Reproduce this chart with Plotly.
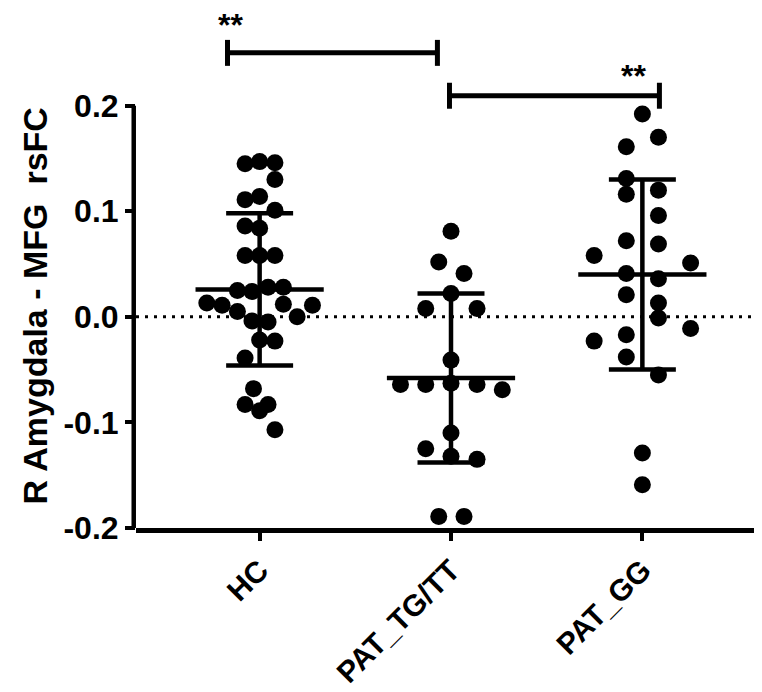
import plotly.graph_objects as go

# ---------------- data ----------------
groups = ["HC", "PAT_TG/TT", "PAT_GG"]

hc_vals = [0.145, 0.147, 0.146, 0.130, 0.114, 0.111, 0.101, 0.086, 0.084, 0.058,
           0.058, 0.058, 0.025, 0.024, 0.028, 0.028, 0.013, 0.011, 0.012, 0.011,
           0.005, 0.000, -0.004, -0.005, -0.022, -0.023, -0.039, -0.068, -0.083,
           -0.083, -0.089, -0.107]
tg_vals = [0.081, 0.052, 0.041, 0.022, 0.008, 0.008, -0.041, -0.064, -0.064,
           -0.063, -0.064, -0.069, -0.110, -0.125, -0.132, -0.135, -0.189, -0.189]
gg_vals = [0.192, 0.170, 0.161, 0.131, 0.116, 0.120, 0.096, 0.072, 0.069, 0.058,
           0.051, 0.041, 0.036, 0.021, 0.013, -0.001, -0.011, -0.023, -0.017,
           -0.038, -0.055, -0.129, -0.159]

# horizontal scatter slots of each dot (in dot widths), as laid out in the picture
hc_slots = [-0.95, 0, 1, 1, 0, -0.95, 1, -0.95, 0, -0.95, 0, 1, -1.45, -0.5, 0.55,
            1.55, -3.45, -2.45, 1.55, 3.45, -1.45, 2.45, -0.5, 0.55, 0, 1, -0.95,
            -0.4, -0.95, 0.55, 0, 1]
tg_slots = [0, -0.8, 0.85, 0, -1.65, 1.7, 0, -3.3, -1.65, 0, 1.7, 3.35, 0, -1.65,
            0, 1.7, -0.8, 0.85]
gg_slots = [0, 1.05, -1.05, -1.05, -1.05, 1.05, 1.05, -1.05, 1.05, -3.15, 3.15,
            -1.05, 1.05, -1.05, 1.05, 1.05, 3.15, -3.15, -1.05, -1.05, 1.05, 0, 0]

means = [0.026, -0.058, 0.040]
sds = [0.072, 0.080, 0.090]

comparisons = [(0, 1), (1, 2)]
comparison_labels = ["**", "**"]

y_ticks = [-0.2, -0.1, 0.0, 0.1, 0.2]
y_ticklabels = ["-0.2", "-0.1", "0.0", "0.1", "0.2"]
y_title = "R Amygdala - MFG\u00a0 rsFC"

# ---------------- style ----------------
FONT = "Arial, Liberation Sans, sans-serif"
DOT = 0.08          # category units per dot slot
MEAN_HALF = 0.335
CAP_HALF = 0.175
LW = 4.5

fig = go.Figure()

for i, (vals, slots) in enumerate([(hc_vals, hc_slots), (tg_vals, tg_slots), (gg_vals, gg_slots)]):
    fig.add_trace(go.Scatter(
        x=[i + s * DOT for s in slots], y=vals, mode="markers",
        marker=dict(size=17, color="black", line=dict(width=0)),
        cliponaxis=False, showlegend=False, hoverinfo="y"))

# mean and SD lines
ex, ey = [], []
for i, (m, s) in enumerate(zip(means, sds)):
    ex += [i - MEAN_HALF, i + MEAN_HALF, None, i, i, None,
           i - CAP_HALF, i + CAP_HALF, None, i - CAP_HALF, i + CAP_HALF, None]
    ey += [m, m, None, m - s, m + s, None, m + s, m + s, None, m - s, m - s, None]
fig.add_trace(go.Scatter(x=ex, y=ey, mode="lines", line=dict(color="black", width=LW),
                         showlegend=False, hoverinfo="skip"))

# significance brackets
bracket_geom = [(-0.168, 0.929, 0.250), (0.992, 2.089, 0.2094)]
label_pos = [(-0.15, 0.276), (1.953, 0.228)]
CAP = 0.0123
bx, by = [], []
for (x0, x1, yb) in bracket_geom:
    bx += [x0, x1, None, x0, x0, None, x1, x1, None]
    by += [yb, yb, None, yb - CAP, yb + CAP, None, yb - CAP, yb + CAP, None]
fig.add_trace(go.Scatter(x=bx, y=by, mode="lines", line=dict(color="black", width=5),
                         showlegend=False, hoverinfo="skip", cliponaxis=False))
for (lx, ly), lab in zip(label_pos, comparison_labels):
    fig.add_annotation(x=lx, y=ly, text=lab, showarrow=False, borderpad=0,
                       font=dict(family=FONT, size=32, color="black", weight="bold"))

# dotted zero line
fig.add_shape(type="line", xref="paper", yref="y", x0=0, x1=1, y0=0, y1=0,
              line=dict(color="black", width=3, dash="3px,6px"), layer="below")
# y axis line (only spanning -0.2..0.2)
fig.add_shape(type="line", xref="paper", yref="y", x0=-0.0036, x1=-0.0036,
              y0=-0.2048, y1=0.2, line=dict(color="black", width=LW))

fig.add_annotation(xref="paper", yref="y", x=-0.16, y=0.01, text=y_title,
                   textangle=-90, showarrow=False, xanchor="center", yanchor="middle",
                   font=dict(family=FONT, size=34, color="black", weight="bold"))

fig.update_layout(
    width=762, height=692,
    margin=dict(l=128, r=4, t=0, b=172),
    paper_bgcolor="white", plot_bgcolor="white",
    showlegend=False,
    xaxis=dict(range=[-0.646, 2.646], tickvals=[0, 1, 2], ticktext=groups,
               tickangle=-45, showline=True, linewidth=LW, linecolor="black",
               ticks="outside", ticklen=8, tickwidth=4, tickcolor="black",
               showgrid=False, zeroline=False,
               tickfont=dict(family=FONT, size=30, color="black", weight="bold")),
    yaxis=dict(range=[-0.2, 0.2925], tickvals=y_ticks, ticktext=y_ticklabels,
               showline=False, ticks="outside", ticklen=10, tickwidth=4,
               tickcolor="black", showgrid=False, zeroline=False,
               tickfont=dict(family=FONT, size=32, color="black", weight="bold")),
)

fig.write_html("out.html")
